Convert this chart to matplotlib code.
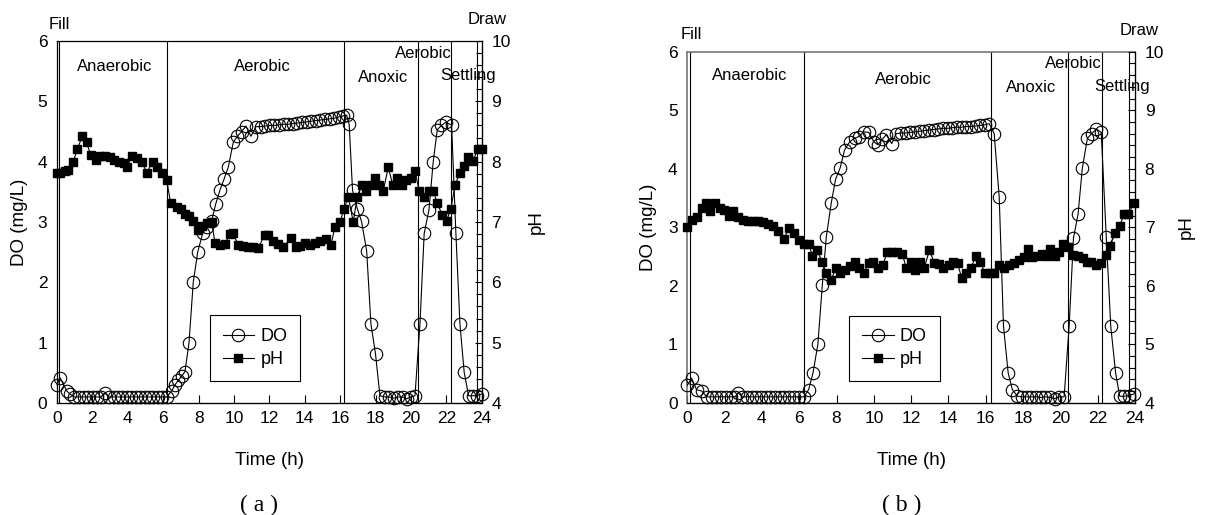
import matplotlib
matplotlib.use("Agg")
import matplotlib.pyplot as plt
from matplotlib.lines import Line2D
from matplotlib.ticker import MultipleLocator

plt.rcParams['font.family'] = ['Liberation Sans', 'DejaVu Sans']

# ---------------- panel (a) ----------------
t_do_a = [0.0, 0.17, 0.55, 0.73, 0.98, 1.24, 1.5, 1.76, 2.02, 2.28, 2.5, 2.69,
          2.95, 3.2, 3.45, 3.7, 3.95, 4.2, 4.45, 4.7, 4.95, 5.2, 5.45, 5.7, 5.95, 6.2,
          6.48, 6.67, 6.86, 7.06, 7.23, 7.46, 7.7, 7.95, 8.23, 8.46, 8.74, 8.97, 9.21,
          9.44, 9.68, 9.96, 10.19, 10.44, 10.68, 10.96,
          11.24, 11.5, 11.76, 12.02, 12.28, 12.54, 12.8, 13.06, 13.32, 13.58, 13.84,
          14.1, 14.36, 14.62, 14.88, 15.14, 15.4, 15.66, 15.92, 16.18,
          16.37, 16.51, 16.7, 16.97, 17.21, 17.5, 17.74, 18.0,
          18.25, 18.53, 18.77, 19.04, 19.28, 19.53, 19.76, 20.0, 20.23,
          20.51, 20.75, 21.02, 21.26, 21.49, 21.72, 21.96, 22.3, 22.54, 22.77,
          23.01, 23.26, 23.5, 23.73, 24.0]
do_a = [0.30, 0.42, 0.20, 0.15, 0.10, 0.10, 0.10, 0.10, 0.10, 0.10, 0.10, 0.17,
        0.10, 0.10, 0.10, 0.10, 0.10, 0.10, 0.10, 0.10, 0.10, 0.10, 0.10, 0.10, 0.10, 0.10,
        0.20, 0.30, 0.38, 0.45, 0.52, 1.00, 2.00, 2.50, 2.81, 2.92, 3.02, 3.30, 3.53,
        3.71, 3.91, 4.32, 4.42, 4.50, 4.59, 4.42,
        4.58, 4.58, 4.59, 4.60, 4.60, 4.61, 4.62, 4.62, 4.63, 4.64, 4.65,
        4.66, 4.67, 4.68, 4.69, 4.70, 4.71, 4.72, 4.74, 4.76,
        4.77, 4.62, 3.53, 3.22, 3.01, 2.52, 1.31, 0.81,
        0.12, 0.10, 0.10, 0.08, 0.10, 0.10, 0.07, 0.10, 0.12,
        1.31, 2.81, 3.20, 4.00, 4.53, 4.60, 4.65, 4.61, 2.82, 1.31,
        0.51, 0.12, 0.12, 0.12, 0.15]

t_ph_a = [0.0, 0.17, 0.45, 0.64, 0.92, 1.15, 1.43, 1.68, 1.9, 2.19, 2.43, 2.71, 2.99,
          3.22, 3.5, 3.79, 3.97, 4.22, 4.5, 4.79, 5.07, 5.41, 5.67, 5.95, 6.2, 6.42,
          6.76, 6.99, 7.23, 7.47, 7.7, 7.95, 8.18, 8.46, 8.74, 8.93, 9.21, 9.49, 9.77,
          9.96, 10.24, 10.53, 10.81, 11.09, 11.37, 11.75, 11.94, 12.22, 12.5, 12.79,
          13.22, 13.49, 13.73, 14.01, 14.29, 14.58, 14.86, 15.2, 15.48, 15.71, 15.99,
          16.23, 16.46, 16.74, 16.97, 17.21, 17.46, 17.72, 17.97, 18.21, 18.44, 18.72,
          18.97, 19.23, 19.47, 19.72, 19.98, 20.23, 20.47, 20.75, 21.02, 21.26, 21.49,
          21.77, 22.02, 22.26, 22.5, 22.77, 23.01, 23.24, 23.52, 23.77, 24.0]
ph_a = [7.81, 7.82, 7.84, 7.87, 8.00, 8.21, 8.42, 8.32, 8.11, 8.03, 8.09, 8.10, 8.07,
        8.02, 8.00, 7.98, 7.91, 8.10, 8.06, 8.00, 7.82, 7.99, 7.91, 7.81, 7.70, 7.31,
        7.25, 7.21, 7.13, 7.10, 7.01, 6.87, 6.94, 6.98, 7.00, 6.65, 6.62, 6.63, 6.80,
        6.81, 6.62, 6.60, 6.59, 6.58, 6.57, 6.79, 6.78, 6.68, 6.64, 6.59,
        6.73, 6.59, 6.60, 6.65, 6.62, 6.65, 6.68, 6.72, 6.62, 6.92, 7.00,
        7.22, 7.42, 7.00, 7.42, 7.62, 7.51, 7.62, 7.73, 7.62, 7.52, 7.91,
        7.62, 7.73, 7.62, 7.70, 7.73, 7.84, 7.52, 7.41, 7.52, 7.52, 7.31,
        7.12, 7.02, 7.22, 7.62, 7.81, 7.92, 8.08, 8.01, 8.21, 8.21]

phase_a = [0.13, 6.21, 16.23, 20.41, 22.24, 23.72]

# ---------------- panel (b) ----------------
t_do_b = [0.0, 0.23, 0.5, 0.77, 1.04, 1.3, 1.56, 1.82, 2.08, 2.34, 2.55, 2.73,
          2.95, 3.2, 3.45, 3.7, 3.95, 4.2, 4.45, 4.7, 4.95, 5.2, 5.45, 5.7, 5.97, 6.24,
          6.5, 6.74, 7.0, 7.24, 7.45, 7.72, 7.95, 8.2, 8.43, 8.7, 8.97, 9.2, 9.47, 9.73,
          10.0, 10.21, 10.45, 10.66, 10.96, 11.2,
          11.45, 11.7, 11.95, 12.2, 12.45, 12.7, 12.95, 13.2, 13.45, 13.7, 13.95,
          14.2, 14.45, 14.7, 14.95, 15.2, 15.45, 15.7, 15.95, 16.19,
          16.45, 16.72, 16.95, 17.2, 17.43, 17.7, 17.95, 18.2, 18.45, 18.7, 18.95,
          19.2, 19.45, 19.7, 19.95, 20.2, 20.47, 20.7, 20.95, 21.18, 21.45, 21.68,
          21.93, 22.19, 22.46, 22.7, 22.96, 23.18, 23.42, 23.66, 23.94]
do_b = [0.30, 0.42, 0.22, 0.20, 0.10, 0.10, 0.10, 0.10, 0.10, 0.10, 0.10, 0.17,
        0.10, 0.10, 0.10, 0.10, 0.10, 0.10, 0.10, 0.10, 0.10, 0.10, 0.10, 0.10, 0.10, 0.10,
        0.22, 0.51, 1.00, 2.02, 2.83, 3.42, 3.82, 4.02, 4.32, 4.46, 4.52, 4.55, 4.63, 4.62,
        4.46, 4.41, 4.50, 4.58, 4.43, 4.60,
        4.61, 4.61, 4.62, 4.63, 4.64, 4.65, 4.66, 4.67, 4.68, 4.69, 4.69,
        4.70, 4.71, 4.71, 4.72, 4.72, 4.73, 4.74, 4.75, 4.77,
        4.60, 3.52, 1.31, 0.51, 0.22, 0.11, 0.10, 0.10, 0.10, 0.10, 0.09,
        0.10, 0.09, 0.07, 0.10, 0.10, 1.31, 2.81, 3.23, 4.02, 4.52, 4.60,
        4.68, 4.62, 2.83, 1.31, 0.51, 0.11, 0.11, 0.12, 0.15]

t_ph_b = [0.0, 0.24, 0.5, 0.77, 1.0, 1.21, 1.48, 1.75, 1.96, 2.23, 2.46, 2.73, 2.99,
          3.26, 3.53, 3.8, 4.06, 4.33, 4.6, 4.87, 5.19, 5.45, 5.71, 5.97, 6.24, 6.51,
          6.71, 6.96, 7.22, 7.45, 7.72, 7.95, 8.2, 8.47, 8.7, 8.97, 9.2, 9.47, 9.72,
          9.95, 10.21, 10.48, 10.72, 10.98, 11.23, 11.52, 11.73, 12.0, 12.23, 12.5,
          12.71, 12.98, 13.25, 13.48, 13.73, 14.01, 14.22, 14.49, 14.71, 14.94, 15.21,
          15.48, 15.71, 15.96, 16.22, 16.45, 16.72, 16.99, 17.26, 17.52, 17.79, 18.03,
          18.25, 18.47, 18.74, 19.01, 19.22, 19.43, 19.7, 19.93, 20.14, 20.41, 20.7,
          20.96, 21.23, 21.43, 21.65, 21.89, 22.16, 22.43, 22.66, 22.93, 23.18, 23.41,
          23.64, 23.95]
ph_b = [7.01, 7.12, 7.18, 7.32, 7.42, 7.27, 7.42, 7.32, 7.29, 7.19, 7.27, 7.18, 7.12,
        7.11, 7.11, 7.11, 7.09, 7.05, 7.02, 6.94, 6.80, 6.99, 6.90, 6.78, 6.72, 6.71,
        6.51, 6.61, 6.41, 6.21, 6.10, 6.30, 6.22, 6.27, 6.33, 6.41, 6.31, 6.21, 6.39,
        6.41, 6.30, 6.35, 6.58, 6.58, 6.57, 6.55, 6.31, 6.41, 6.27, 6.41,
        6.31, 6.61, 6.38, 6.37, 6.31, 6.35, 6.41, 6.38, 6.13, 6.21, 6.31,
        6.51, 6.41, 6.21, 6.21, 6.21, 6.35, 6.31, 6.35, 6.38, 6.44, 6.49,
        6.62, 6.49, 6.51, 6.55, 6.51, 6.62, 6.51, 6.58, 6.71, 6.67, 6.52,
        6.50, 6.47, 6.41, 6.41, 6.35, 6.38, 6.52, 6.68, 6.90, 7.02, 7.22,
        7.22, 7.42]

phase_b = [0.15, 6.27, 16.27, 20.43, 22.24, 23.70]

phase_names = ["Anaerobic", "Aerobic", "Anoxic", "Aerobic", "Settling"]
x_ticks = list(range(0, 25, 2))
do_ticks = [0, 1, 2, 3, 4, 5, 6]
ph_ticks = [4, 5, 6, 7, 8, 9, 10]

FS_TICK = 12.5
FS_LAB = 13.5
FS_TXT = 12
FS_LEG = 13

fig = plt.figure(figsize=(12.05, 5.15), dpi=100)


def panel(rect, t_do, do, t_ph, ph, phases, text_pos, spine_col, leg_anchor,
          dolab_x, phlab_x, xlab_y, tag, tag_xy):
    ax = fig.add_axes(rect)
    ax.set_xlim(0, 24)
    ax.set_ylim(0, 6)
    ax.set_xticks(x_ticks)
    ax.set_yticks(do_ticks)
    ax.tick_params(axis='x', direction='in', length=6, width=0.8, pad=6,
                   labelsize=FS_TICK)
    ax.tick_params(axis='y', direction='in', length=0, pad=7, labelsize=FS_TICK)
    for side in ['left', 'top']:
        ax.spines[side].set_color(spine_col)
        ax.spines[side].set_linewidth(1.2 if spine_col != 'black' else 0.9)
    ax.spines['bottom'].set_linewidth(0.9)
    ax.spines['right'].set_linewidth(0.9)
    for x in phases:
        ax.axvline(x, color='black', lw=0.8, zorder=1)
    ax.plot(t_do, do, color='black', lw=0.8, marker='o', ms=9, mfc='none',
            mec='black', mew=0.8, zorder=3, clip_on=False)
    ax.set_ylabel('DO (mg/L)', fontsize=FS_LAB)
    ax.yaxis.set_label_coords(dolab_x, 0.5)
    ax.set_xlabel('Time (h)', fontsize=FS_LAB)
    ax.xaxis.set_label_coords(0.5, xlab_y)
    for (name, tx, ty) in text_pos:
        ax.text(tx, ty, name, ha='center', va='center', fontsize=FS_TXT)

    ax2 = ax.twinx()
    ax2.set_ylim(4, 10)
    ax2.set_yticks(ph_ticks)
    ax2.yaxis.set_minor_locator(MultipleLocator(0.2))
    ax2.tick_params(axis='y', which='major', direction='in', length=5, width=0.8,
                    pad=7, labelsize=FS_TICK)
    ax2.tick_params(axis='y', which='minor', direction='in', length=4, width=0.8)
    for side in ['left', 'top']:
        ax2.spines[side].set_visible(False)
    ax2.plot(t_ph, ph, color='black', lw=0.8, marker='s', ms=5.5, mfc='black',
             mec='black', zorder=3, clip_on=False)
    ax2.set_ylabel('pH', fontsize=FS_LAB)
    ax2.yaxis.set_label_coords(phlab_x, 0.5)

    h1 = Line2D([], [], color='black', lw=0.8, marker='o', ms=9, mfc='none',
                mec='black', mew=0.8)
    h2 = Line2D([], [], color='black', lw=0.8, marker='s', ms=5.5, mfc='black')
    leg = ax2.legend([h1, h2], ['DO', 'pH'], loc='lower left',
                     bbox_to_anchor=leg_anchor, borderaxespad=0, fontsize=FS_LEG,
                     fancybox=False, framealpha=1, edgecolor='black',
                     handlelength=1.75, handletextpad=0.35, borderpad=0.7,
                     labelspacing=0.33)
    leg.get_frame().set_linewidth(0.8)
    fig.text(tag_xy[0], tag_xy[1], tag, ha='center', va='center', fontsize=17,
             family=['Liberation Serif', 'DejaVu Serif'])
    return ax, ax2


W, H = 1205, 515
texts_a = [("Fill", 0.14, 6.28), ("Draw", 24.28, 6.36),
           (phase_names[0], 3.28, 5.57), (phase_names[1], 11.58, 5.57),
           (phase_names[2], 18.42, 5.40), (phase_names[3], 20.68, 5.80),
           (phase_names[4], 23.22, 5.42)]
texts_b = [("Fill", 0.19, 6.29), ("Draw", 24.24, 6.37),
           (phase_names[0], 3.32, 5.60), (phase_names[1], 11.58, 5.53),
           (phase_names[2], 18.42, 5.39), (phase_names[3], 20.67, 5.80),
           (phase_names[4], 23.29, 5.41)]

panel([57 / W, (H - 403) / H, (481.7 - 57) / W, (403 - 41) / H],
      t_do_a, do_a, t_ph_a, ph_a, phase_a, texts_a, 'black', (0.36, 0.062),
      -0.068, 1.109, -0.1345, '( a )', (259 / W, 1 - 505 / H))
panel([687.3 / W, (H - 402.7) / H, (1135 - 687.3) / W, (402.7 - 51.7) / H],
      t_do_b, do_b, t_ph_b, ph_b, phase_b, texts_b, '#777777', (0.362, 0.062),
      -0.068, 1.096, -0.14, '( b )', (902 / W, 1 - 505 / H))

fig.savefig('out.png', dpi=100)
